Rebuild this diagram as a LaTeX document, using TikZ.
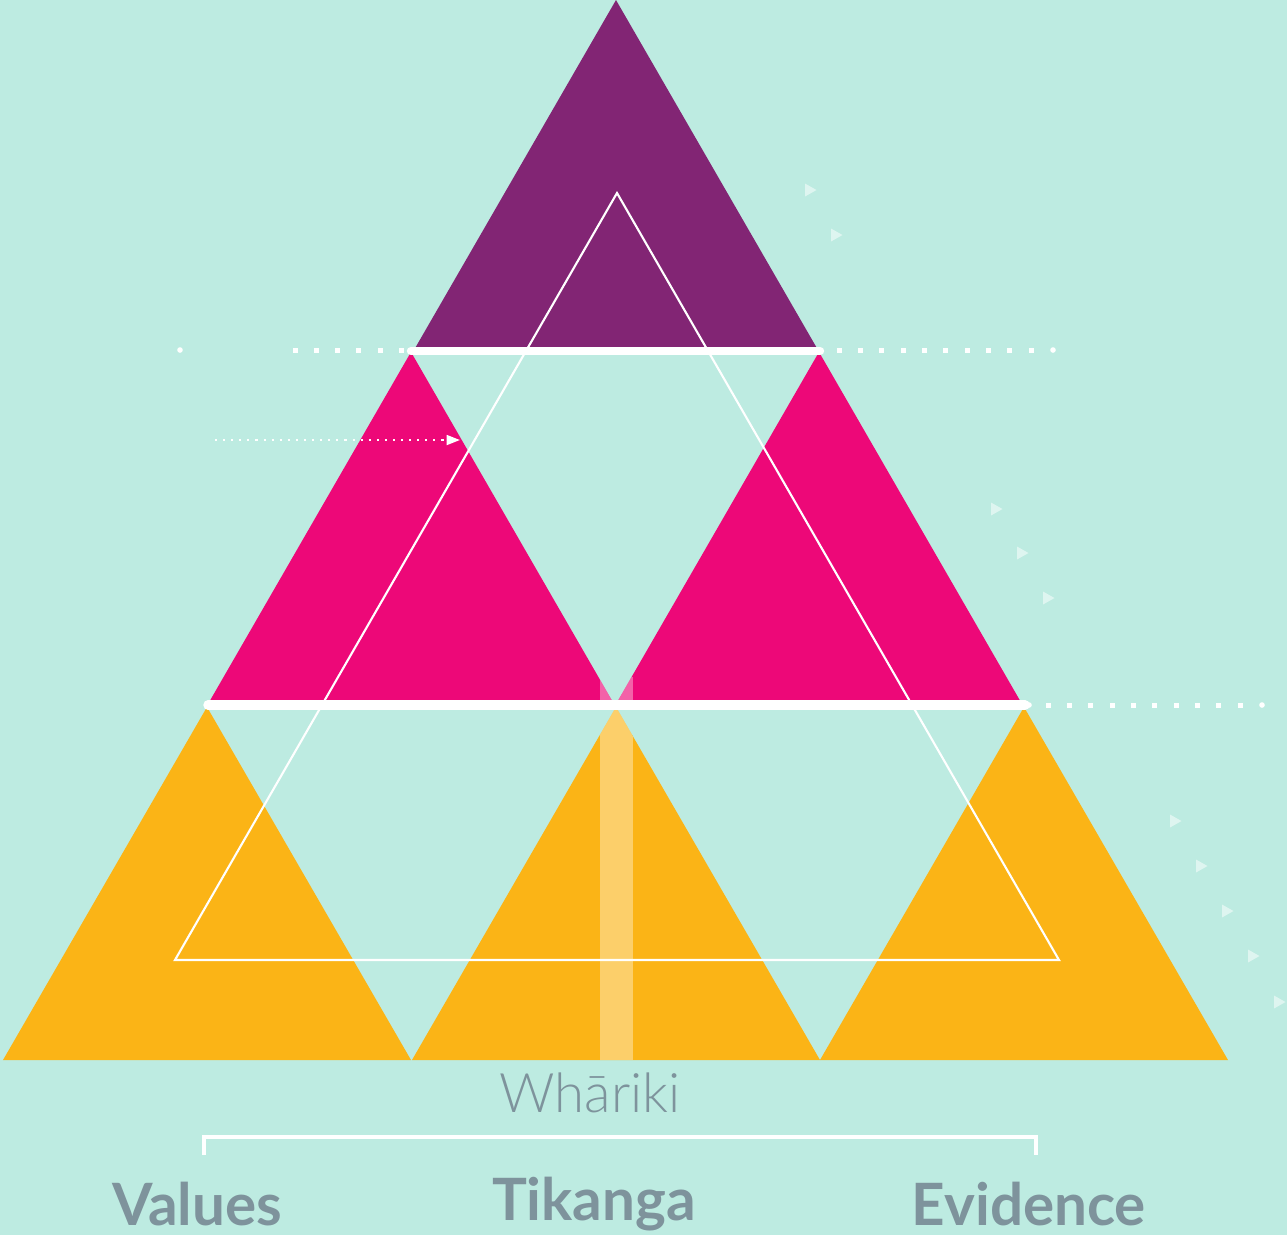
\documentclass[tikz,border=0pt]{standalone}
\usepackage{fontspec}
\usepackage{tikz}
\usetikzlibrary{positioning,arrows.meta}
\newfontfamily\boldlabelfont{Lato}[UprightFont={* Bold}]
\newfontfamily\thinlabelfont{Lato Light}
\definecolor{seafoam}{HTML}{BDEBE1}
\definecolor{kumara}{HTML}{822574}
\definecolor{magenta}{HTML}{ED0878}
\definecolor{kowhai}{HTML}{FBB416}
\definecolor{slate}{HTML}{7E939C}

\begin{document}
\begin{tikzpicture}[
							x = 0.01cm,
							y = -0.01cm,
							bar/.style = {
								white,
								line cap = round,
								line width = 2.4pt,
							},
							outline/.style = {
								draw = white,
								line width = 0.6pt,
								line join = miter,
							},
							sqdot/.style = {
								fill = white,
							},
							pointer/.style = {
								fill = white,
								opacity = 0.5,
							},
							heading/.style = {
								text = slate,
								font = \boldlabelfont\fontsize{16.6}{18}\selectfont,
								anchor = base,
								inner sep = 0pt,
							},
							mat/.style = {
								text = slate,
								font = \thinlabelfont\fontsize{15.5}{18}\selectfont,
								anchor = base,
								inner sep = 0pt,
							}
						]
					\fill [seafoam] (0, 0) rectangle (1287, 1235);
					\useasboundingbox (0, 0) rectangle (1287, 1235);

					% tiers
					\fill [kumara] (616, 0) -- (818, 350) -- (414, 350) -- cycle;
					\fill [magenta] (411, 352) -- (614, 704) -- (208, 704) -- cycle;
					\fill [magenta] (819, 352) -- (1022, 704) -- (616, 704) -- cycle;
					\fill [kowhai] (207, 707) -- (411, 1060) -- (3, 1060) -- cycle;
					\fill [kowhai] (616, 707) -- (820, 1060) -- (412, 1060) -- cycle;
					\fill [kowhai] (1024, 707) -- (1228, 1060) -- (820, 1060) -- cycle;

					% centre column, only over the tiers
					\begin{scope}
						\clip (411, 352) -- (614, 704) -- (208, 704) -- cycle
							(819, 352) -- (1022, 704) -- (616, 704) -- cycle
							(616, 707) -- (820, 1060) -- (412, 1060) -- cycle;
						\fill [white, opacity = 0.36] (600, 677) rectangle (633, 1060);
					\end{scope}

					\draw [outline] (617, 193) -- (1059, 960) -- (175, 960) -- cycle;

					\draw [bar] (411, 351) -- (820, 351);
					\draw [bar, line width = 2.7pt] (208, 705) -- (1025, 705);

					% dotted guides
					\fill [white] (180, 350) circle (2.8);
					\foreach \i in {0, ..., 5}
						\fill [sqdot] ({292.5 + 21.3 * \i}, 347.5) rectangle ++(5, 5);
					\foreach \i in {0, ..., 9}
						\fill [sqdot] ({836.5 + 21.35 * \i}, 347.5) rectangle ++(5, 5);
					\fill [white] (1053, 350) circle (2.8);
					\fill [white] (1029, 705) circle (2.8);
					\foreach \i in {0, ..., 9}
						\fill [sqdot] ({1045.5 + 21.35 * \i}, 702.5) rectangle ++(5, 5);
					\fill [white] (1262, 705) circle (2.8);

					\coordinate (leadStart) at (215, 440);
					\coordinate (leadEnd) at (460, 440);
					\draw [white, line width = 0.6pt, dash pattern = on 0.6pt off 1.7pt,
						-{Triangle[length = 3.8pt, width = 2.8pt]}] (leadStart) -- (leadEnd);

					% little pointers
					\foreach \px/\py in {805/190, 831/235, 991/509, 1017/553, 1043/598,
						1170/821, 1196/866, 1222/911, 1248/956, 1274/1002}
						\fill [pointer] (\px, \py - 6.5) -- (\px + 11.5, \py) -- (\px, \py + 6.5) -- cycle;

					% labels
					\node [mat] (whariki) at (590, 1112) {Whāriki};

					\coordinate (braceL) at (204, 1155);
					\coordinate (braceR) at (1036, 1155);
					\draw [white, line width = 1.2pt] (braceL) -- ++(0, -18) -| (braceR);

					\node [heading] (values) at (197, 1225) {Values};
					\node [heading] (tikanga) at (594, 1220) {Tikanga};
					\node [heading] (evidence) at (1029, 1225) {Evidence};
				\end{tikzpicture}
\end{document}
